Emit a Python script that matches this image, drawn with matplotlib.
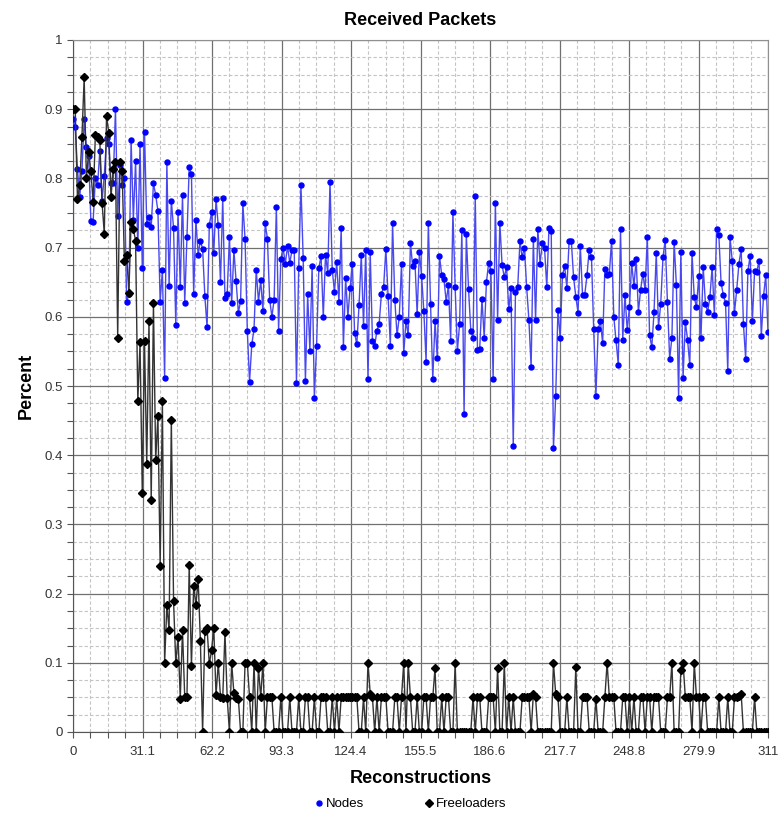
import matplotlib
matplotlib.use('Agg')
import matplotlib.pyplot as plt
from matplotlib.ticker import MultipleLocator, FixedLocator
import matplotlib.lines as mlines
import numpy as np

plt.rcParams['font.family'] = ['Liberation Sans', 'DejaVu Sans']

# Nodes: share of received packets per reconstruction (x = 0..311)
nodes = [
    0.886, 0.874, 0.813, 0.773, 0.811, 0.886, 0.845, 0.832, 0.738, 0.737,
    0.80, 0.79, 0.84, 0.768, 0.804, 0.858, 0.85, 0.794, 0.794, 0.90,
    0.746, 0.82, 0.79, 0.80, 0.621, 0.633, 0.856, 0.74, 0.825, 0.70,
    0.85, 0.67, 0.867, 0.734, 0.744, 0.73, 0.793, 0.776, 0.753, 0.622,
    0.667, 0.512, 0.823, 0.645, 0.768, 0.728, 0.588, 0.751, 0.643, 0.776,
    0.62, 0.716, 0.817, 0.806, 0.633, 0.74, 0.69, 0.71, 0.698, 0.63,
    0.585, 0.733, 0.751, 0.692, 0.77, 0.732, 0.65, 0.771, 0.627, 0.633,
    0.716, 0.62, 0.696, 0.652, 0.606,
    0.623, 0.764, 0.712, 0.58, 0.506, 0.56, 0.582, 0.668, 0.622, 0.653,
    0.608, 0.735, 0.713, 0.625, 0.60, 0.625, 0.758, 0.58, 0.683, 0.70,
    0.677, 0.702, 0.678, 0.696, 0.696, 0.505, 0.671, 0.79, 0.685, 0.507,
    0.633, 0.551, 0.673, 0.483, 0.558, 0.67, 0.688, 0.60, 0.69, 0.663,
    0.795, 0.668, 0.636, 0.679, 0.621, 0.728, 0.557, 0.656, 0.60, 0.642,
    0.677, 0.577, 0.56, 0.617, 0.69, 0.586, 0.697, 0.51, 0.693, 0.565,
    0.558, 0.58, 0.59, 0.633, 0.643, 0.698, 0.63, 0.558, 0.735, 0.625,
    0.573, 0.60, 0.676, 0.547, 0.594, 0.573, 0.707,
    0.673, 0.681, 0.604, 0.693, 0.659, 0.608, 0.535, 0.736, 0.618, 0.51,
    0.594, 0.54, 0.688, 0.66, 0.654, 0.622, 0.646, 0.565, 0.752, 0.643,
    0.55, 0.59, 0.725, 0.459, 0.719, 0.64, 0.58, 0.569, 0.774, 0.552,
    0.554, 0.626, 0.57, 0.65, 0.678, 0.666, 0.51, 0.765, 0.595, 0.736,
    0.675, 0.657, 0.672, 0.611, 0.641, 0.413, 0.636, 0.643, 0.709, 0.686,
    0.70, 0.643, 0.596, 0.527, 0.713, 0.595, 0.727, 0.677, 0.706, 0.70,
    0.643, 0.729, 0.724, 0.41, 0.485, 0.61, 0.57, 0.66, 0.673, 0.642,
    0.709, 0.709, 0.657, 0.629, 0.606, 0.703,
    0.632, 0.632, 0.66, 0.697, 0.687, 0.582, 0.486, 0.582, 0.594, 0.562,
    0.669, 0.661, 0.662, 0.71, 0.60, 0.566, 0.531, 0.727, 0.567, 0.631,
    0.581, 0.614, 0.678, 0.644, 0.683, 0.607, 0.639, 0.662, 0.639, 0.716,
    0.574, 0.556, 0.607, 0.692, 0.585, 0.619, 0.686, 0.711, 0.621, 0.539,
    0.57, 0.708, 0.646, 0.483, 0.694, 0.512, 0.593, 0.567, 0.53, 0.692,
    0.628, 0.614, 0.659, 0.569, 0.672, 0.619, 0.607, 0.628, 0.672, 0.603,
    0.727, 0.718, 0.649, 0.632, 0.62, 0.521, 0.715, 0.681, 0.606, 0.639,
    0.677, 0.698, 0.59, 0.539, 0.666, 0.688, 0.594, 0.666, 0.665, 0.681,
    0.572, 0.63, 0.66, 0.578,
]

# Freeloaders: share of received packets per reconstruction (x = 0..311)
freeloaders = [
    0.90, 0.90, 0.77, 0.79, 0.86, 0.946, 0.80, 0.838, 0.81, 0.766,
    0.862, 0.86, 0.855, 0.765, 0.72, 0.89, 0.866, 0.773, 0.814, 0.823,
    0.57, 0.823, 0.81, 0.68, 0.69, 0.635, 0.737, 0.727, 0.71, 0.478,
    0.563, 0.345, 0.565, 0.387, 0.594, 0.335, 0.62, 0.393, 0.457, 0.24,
    0.478, 0.10, 0.183, 0.147, 0.451, 0.189, 0.099, 0.138, 0.048, 0.147,
    0.05, 0.051, 0.242, 0.095, 0.211, 0.183, 0.221, 0.132, 0.0, 0.146,
    0.15, 0.098, 0.118, 0.15, 0.053, 0.10, 0.051, 0.049, 0.144, 0.049,
    0.0, 0.10, 0.056, 0.049, 0.048, 0, 0, 0.1, 0.1, 0.05,
    0, 0.1, 0, 0.093, 0.05, 0.1, 0, 0.05, 0.05, 0.05,
    0, 0, 0, 0.05, 0, 0, 0, 0.05, 0, 0,
    0, 0.05, 0, 0, 0.05, 0.05, 0, 0, 0.05, 0,
    0, 0.05, 0.05, 0.05, 0, 0, 0.05, 0, 0.05, 0,
    0.05, 0.05, 0.05, 0.05, 0.05, 0.05, 0.05, 0.05, 0, 0,
    0.05, 0, 0.1, 0.055, 0.05, 0, 0.05, 0, 0.05, 0.05,
    0.05, 0, 0, 0, 0.05, 0.05, 0, 0.05, 0.1, 0,
    0.1, 0.05, 0, 0, 0.05, 0, 0, 0.05, 0.05, 0,
    0.05, 0.05, 0.093, 0, 0, 0.05, 0, 0.05, 0.05, 0,
    0, 0.1, 0, 0, 0, 0, 0, 0, 0, 0.05,
    0, 0.05, 0.05, 0, 0, 0, 0.05, 0.05, 0.05, 0,
    0.093, 0, 0, 0.1, 0, 0.05, 0, 0.05, 0, 0,
    0, 0.05, 0.05, 0.05, 0.05, 0, 0.055, 0.05, 0, 0,
    0, 0, 0, 0, 0, 0.1, 0.055, 0.05, 0, 0,
    0, 0.05, 0, 0, 0, 0.094, 0, 0, 0.05, 0.05,
    0.05, 0, 0, 0, 0.048, 0, 0, 0, 0.05, 0.1,
    0.05, 0.05, 0.05, 0, 0, 0, 0.05, 0.05, 0, 0.05,
    0, 0.05, 0, 0, 0.05, 0.05, 0, 0.05, 0.05, 0,
    0.05, 0.05, 0.05, 0, 0, 0, 0.05, 0.05, 0.1, 0,
    0, 0, 0.09, 0.1, 0.05, 0.05, 0.05, 0, 0.1, 0.05,
    0.05, 0, 0.05, 0.05, 0, 0, 0, 0, 0, 0.05,
    0, 0, 0, 0.05, 0, 0, 0.05, 0.05, 0.052, 0.055,
    0, 0, 0, 0, 0, 0.05, 0, 0, 0, 0,
    0, 0,
]

x_max = 311
x_ticks = [0, 31.1, 62.2, 93.3, 124.4, 155.5, 186.6, 217.7, 248.8, 279.9, 311]
x_tick_labels = ['0', '31.1', '62.2', '93.3', '124.4', '155.5', '186.6',
                 '217.7', '248.8', '279.9', '311']
y_ticks = [0, 0.1, 0.2, 0.3, 0.4, 0.5, 0.6, 0.7, 0.8, 0.9, 1.0]
y_tick_labels = ['0', '0.1', '0.2', '0.3', '0.4', '0.5', '0.6', '0.7', '0.8', '0.9', '1']

fig = plt.figure(figsize=(7.78, 8.19), dpi=100)
ax = fig.add_axes([73 / 778, 1 - 732 / 819, 695 / 778, 692 / 819])

ax.plot(np.arange(len(nodes)), nodes, color='#4848ee', linewidth=1.0,
        marker='o', markersize=3.6, markerfacecolor='#0000ff',
        markeredgecolor='#0000ff', zorder=3)
ax.plot(np.arange(len(freeloaders)), freeloaders, color='#333333', linewidth=1.0,
        marker='D', markersize=4.2, markerfacecolor='black',
        markeredgecolor='black', zorder=4)

ax.set_xlim(0, x_max)
ax.set_ylim(0, 1)
ax.xaxis.set_major_locator(FixedLocator(x_ticks))
ax.set_xticklabels(x_tick_labels)
ax.xaxis.set_minor_locator(FixedLocator(np.arange(0, x_max + 0.1, x_max / 40)))
ax.set_yticks(y_ticks)
ax.set_yticklabels(y_tick_labels)
ax.yaxis.set_minor_locator(MultipleLocator(0.025))

ax.grid(which='major', color='#707070', linewidth=0.9, linestyle='-')
ax.grid(which='minor', color='#c4c4c4', linewidth=0.8, linestyle=(0, (3, 2)))
ax.set_axisbelow(True)

ax.tick_params(which='both', direction='out', length=4, width=0.8, color='#555555',
               labelsize=9.5, labelcolor='#333333')
ax.tick_params(axis='x', pad=6)
for side in ['left', 'bottom']:
    ax.spines[side].set_color('#555555')
for side in ['top', 'right']:
    ax.spines[side].set_color('#909090')
    ax.spines[side].set_linewidth(0.8)

ax.set_title('Received Packets', fontsize=13, fontweight='bold', pad=11)
ax.set_xlabel('Reconstructions', fontsize=13, fontweight='bold', labelpad=9)
ax.set_ylabel('Percent', fontsize=13, fontweight='bold', labelpad=7)

node_handle = mlines.Line2D([], [], color='#0000ff', marker='o', linestyle='None',
                            markersize=3.6, label='Nodes')
free_handle = mlines.Line2D([], [], color='black', marker='D', linestyle='None',
                            markersize=4.2, label='Freeloaders')
fig.legend(handles=[node_handle, free_handle], loc='center', ncol=2,
           bbox_to_anchor=(0.527, 1 - 804 / 819), frameon=False, fontsize=9.5,
           handletextpad=0.1, columnspacing=4.5, handlelength=0.8)

fig.savefig('out.png', dpi=100)
